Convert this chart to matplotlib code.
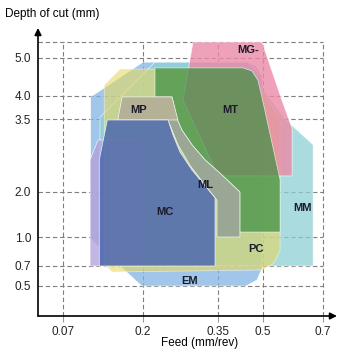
import numpy as np
import matplotlib
matplotlib.use("Agg")
import matplotlib.pyplot as plt
from matplotlib.patches import Polygon

plt.rcParams['font.family'] = ['Liberation Sans', 'DejaVu Sans']

# ---- axis ticks (non-uniform chart scale) ----
feed_ticks = [0.07, 0.2, 0.35, 0.5, 0.7]
feed_labels = ["0.07", "0.2", "0.35", "0.5", "0.7"]
depth_ticks = [0.5, 0.7, 1.0, 2.0, 3.5, 4.0, 5.0]
depth_labels = ["0.5", "0.7", "1.0", "2.0", "3.5", "4.0", "5.0"]

# ---- application areas (feed mm/rev, depth mm) ----
EM_feed = [0.115, 0.20, 0.443, 0.477, 0.497, 0.497, 0.48, 0.443, 0.198, 0.115]
EM_depth = [3.98, 4.89, 4.89, 4.79, 4.53, 0.68, 0.56, 0.50, 0.50, 0.98]

MM_feed = [0.13, 0.13, 0.224, 0.45, 0.497, 0.497, 0.573, 0.667, 0.667]
MM_depth = [0.70, 3.54, 4.89, 4.89, 4.53, 4.21, 3.50, 2.97, 0.70]

LV_feed = [0.114, 0.114, 0.127, 0.20, 0.20]
LV_depth = [0.70, 2.66, 3.07, 3.07, 0.70]

PC_feed = [0.137, 0.163, 0.423, 0.497, 0.557, 0.557, 0.537, 0.497, 0.15, 0.137]
PC_depth = [4.29, 4.71, 4.71, 4.10, 3.52, 0.865, 0.73, 0.66, 0.64, 0.72]

MG_feed = [0.30, 0.497, 0.563, 0.597, 0.597, 0.35, 0.28]
MG_depth = [5.42, 5.42, 3.91, 3.31, 2.33, 2.33, 3.91]

MT_feed = [0.224, 0.433, 0.463, 0.483, 0.497, 0.557, 0.557, 0.423, 0.423,
           0.363, 0.324, 0.298, 0.278, 0.268, 0.258, 0.224]
MT_depth = [4.74, 4.74, 4.66, 4.42, 3.96, 2.25, 1.11, 1.11, 2.0,
            2.35, 2.66, 2.97, 3.27, 3.5, 3.98, 3.98]

ML_feed = [0.268, 0.278, 0.298, 0.324, 0.363, 0.423, 0.423, 0.348, 0.348,
           0.324, 0.294, 0.27, 0.254, 0.248]
ML_depth = [3.5, 3.27, 2.97, 2.66, 2.35, 2.0, 1.0, 1.0, 1.82,
            2.14, 2.55, 2.97, 3.38, 3.5]

MP_feed = [0.166, 0.258, 0.27, 0.159]
MP_depth = [3.98, 3.98, 3.48, 3.48]

MC_feed = [0.129, 0.142, 0.25, 0.26, 0.274, 0.298, 0.328, 0.344, 0.344, 0.129]
MC_depth = [2.66, 3.48, 3.48, 3.17, 2.82, 2.45, 2.08, 1.87, 0.70, 0.70]

labels = ["MG-", "MP", "MT", "ML", "MC", "MM", "PC", "EM"]
label_feed = [0.45, 0.192, 0.39, 0.324, 0.244, 0.633, 0.477, 0.294]
label_depth = [5.2, 3.7, 3.7, 2.14, 1.55, 1.64, 0.88, 0.55]

# ---- chart scale anchors ----
feed_anchor = np.array([0.0, 0.07, 0.2, 0.35, 0.5, 0.7, 0.8])
feed_pos = np.array([0, 25, 105, 180, 225, 285, 315], dtype=float)
depth_anchor = np.array([0.0, 0.5, 0.7, 1.0, 2.0, 3.5, 4.0, 5.0, 6.0])
depth_pos = np.array([0, 30, 50, 79, 124, 197, 220, 258, 296], dtype=float)


def fx(v):
    return np.interp(v, feed_anchor, feed_pos)


def ifx(u):
    return np.interp(u, feed_pos, feed_anchor)


def fy(v):
    return np.interp(v, depth_anchor, depth_pos)


def ify(u):
    return np.interp(u, depth_pos, depth_anchor)


fig = plt.figure(figsize=(3.4, 3.5), dpi=100)
ax = fig.add_axes([38 / 340, 34 / 350, 299 / 340, 288 / 350])
ax.set_xscale('function', functions=(fx, ifx))
ax.set_yscale('function', functions=(fy, ify))
ax.set_xlim(0, ifx(299))
ax.set_ylim(0, ify(288))

top = 5.42
grid_kw = dict(color='#7e7e7e', lw=0.8, ls=(0, (4, 2.5)), zorder=0.5)
for fv in feed_ticks:
    ax.plot([fv, fv], [0, top], **grid_kw)
for dv in depth_ticks + [top]:
    ax.plot([0, 0.7], [dv, dv], **grid_kw)

shapes = [
    (EM_feed, EM_depth, '#80b3e2', 0.75),
    (MM_feed, MM_depth, '#8ed0d4', 0.75),
    (LV_feed, LV_depth, '#b4a4dc', 0.8),
    (PC_feed, PC_depth, '#e6d862', 0.6),
    (MG_feed, MG_depth, '#ea8aa6', 0.8),
    (MT_feed, MT_depth, '#3f8f45', 0.72),
    (ML_feed, ML_depth, '#93a096', 0.85),
    (MP_feed, MP_depth, '#b3ab98', 0.85),
    (MC_feed, MC_depth, '#4d68b2', 0.85),
]
for i, (xs, ys, c, a) in enumerate(shapes):
    ax.add_patch(Polygon(np.column_stack([xs, ys]), closed=True, facecolor=c,
                         alpha=a, edgecolor='white', lw=0.5, zorder=1 + i * 0.01))

for t, xv, yv in zip(labels, label_feed, label_depth):
    ax.text(xv, yv, t, ha='center', va='center', fontsize=8, fontweight='bold',
            color='#1a1a2a', zorder=3)

for s in ax.spines.values():
    s.set_visible(False)
ax.set_xticks(feed_ticks)
ax.set_xticklabels(feed_labels)
ax.set_yticks(depth_ticks)
ax.set_yticklabels(depth_labels)
ax.tick_params(axis='y', length=0, labelsize=8.5, pad=5, colors='#222222')
ax.tick_params(axis='x', length=4, width=0.8, labelsize=8.5, pad=3,
               color='#9a9a9a', labelcolor='#222222')

ax.annotate('', xy=(1.0, 0), xycoords='axes fraction', xytext=(0, 0),
            arrowprops=dict(arrowstyle='-|>', color='black', lw=1.2, mutation_scale=10,
                            shrinkA=0, shrinkB=0), zorder=4)
ax.annotate('', xy=(0, 1.0), xycoords='axes fraction', xytext=(0, 0),
            arrowprops=dict(arrowstyle='-|>', color='black', lw=1.2, mutation_scale=10,
                            shrinkA=0, shrinkB=0), zorder=4)

fig.text(5 / 340, 1 - 14 / 350, "Depth of cut (mm)", ha='left', va='center', fontsize=8.5)
fig.text(200 / 340, 1 - 343 / 350, "Feed (mm/rev)", ha='center', va='center', fontsize=8.5)

fig.savefig("out.png", dpi=100)
